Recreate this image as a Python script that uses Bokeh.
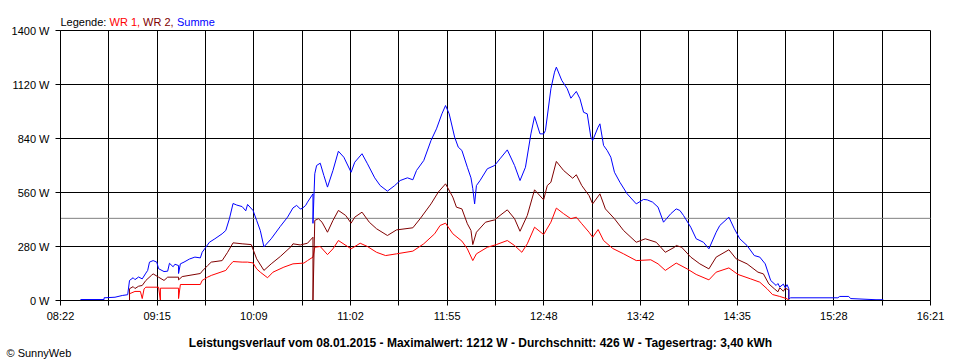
from bokeh.plotting import figure
from bokeh.models import Range1d, FixedTicker, Label
from bokeh.embed import file_html
from bokeh.resources import INLINE

# ---------------- data ----------------
x_tick_labels = ["08:22", "09:15", "10:09", "11:02", "11:55", "12:48",
                 "13:42", "14:35", "15:28", "16:21"]
y_ticks = [0, 280, 560, 840, 1120, 1400]
average_w = 426

summe = [("08:33", 5), ("08:46", 5), ("08:46", 14), ("08:52", 17), ("08:56", 26), ("08:59", 30),
         ("09:00", 104), ("09:02", 118), ("09:03", 108), ("09:05", 122), ("09:07", 112), ("09:09", 142),
         ("09:10", 156), ("09:11", 199),
         ("09:13", 207), ("09:15", 199), ("09:16", 165), ("09:19", 150), ("09:21", 152), ("09:22", 193),
         ("09:24", 175), ("09:25", 188),
         ("09:27", 181), ("09:27", 140), ("09:28", 190), ("09:30", 199), ("09:33", 215), ("09:36", 225),
         ("09:39", 221), ("09:40", 250), ("09:44", 302), ("09:47", 320), ("09:51", 346), ("09:53", 363),
         ("09:55", 424), ("09:57", 503), ("09:59", 495), ("10:02", 487), ("10:04", 465), ("10:05", 498),
         ("10:08", 467), ("10:10", 415), ("10:12", 363), ("10:14", 278), ("10:18", 320), ("10:23", 384),
         ("10:27", 432), ("10:30", 480), ("10:32", 493), ("10:34", 475), ("10:35", 477), ("10:37", 493),
         ("10:38", 510), ("10:41", 553), ("10:41", 400), ("10:42", 657), ("10:43", 700), ("10:45", 712),
         ("10:47", 648), ("10:49", 588), ("10:52", 674), ("10:55", 774), ("10:58", 743), ("11:02", 665),
         ("11:04", 717), ("11:08", 761), ("11:11", 709), ("11:15", 636), ("11:18", 596), ("11:22", 567),
         ("11:26", 596), ("11:29", 622), ("11:33", 636), ("11:36", 626), ("11:38", 674), ("11:42", 726),
         ("11:46", 830), ("11:49", 890), ("11:52", 968), ("11:54", 1011), ("11:56", 968), ("11:59", 847),
         ("12:01", 795), ("12:03", 778), ("12:06", 691), ("12:08", 636), ("12:09", 580), ("12:10", 501),
         ("12:11", 596), ("12:13", 622), ("12:17", 683), ("12:21", 700), ("12:24", 735), ("12:28", 781),
         ("12:32", 700), ("12:35", 622), ("12:38", 691), ("12:41", 864), ("12:43", 954), ("12:46", 864),
         ("12:48", 864), ("12:49", 881), ("12:52", 1098), ("12:54", 1184), ("12:55", 1210), ("12:58", 1141),
         ("13:01", 1098), ("13:03", 1049), ("13:06", 1084), ("13:08", 1046), ("13:10", 976), ("13:12", 968),
         ("13:14", 847), ("13:15", 830), ("13:18", 899), ("13:19", 916), ("13:21", 804), ("13:23", 778),
         ("13:25", 743), ("13:27", 665), ("13:30", 613), ("13:34", 553), ("13:39", 501), ("13:43", 524),
         ("13:45", 522), ("13:48", 510), ("13:51", 484), ("13:54", 406), ("13:58", 450), ("14:01", 475),
         ("14:03", 467), ("14:05", 441), ("14:09", 380), ("14:12", 320), ("14:16", 302), ("14:19", 268),
         ("14:23", 354), ("14:25", 389), ("14:30", 432), ("14:33", 372), ("14:36", 320), ("14:40", 285),
         ("14:44", 233), ("14:47", 225), ("14:50", 190), ("14:53", 104), ("14:56", 78), ("14:57", 88),
         ("14:58", 70), ("15:00", 85), ("15:01", 66), ("15:02", 82),
         ("15:03", 61), ("15:03", 9), ("15:04", 14), ("15:30", 14), ("15:31", 21), ("15:36", 21),
         ("15:37", 10), ("15:51", 4), ("15:55", 4)]

wr1 = [("09:00", 0), ("09:00", 35), ("09:03", 47), ("09:06", 47), ("09:07", 10), ("09:08", 60),
       ("09:09", 69), ("09:16", 69), ("09:17", 0), ("09:17", 64), ("09:27", 64), ("09:27", 10),
       ("09:28", 83), ("09:39", 83), ("09:40", 104), ("09:43", 121), ("09:45", 130), ("09:53", 156),
       ("09:55", 181), ("09:57", 202), ("10:02", 199), ("10:05", 199), ("10:08", 195), ("10:10", 164),
       ("10:12", 147), ("10:16", 118), ("10:19", 147), ("10:25", 173), ("10:30", 190), ("10:36", 194),
       ("10:38", 207), ("10:41", 225), ("10:42", 276), ("10:45", 280), ("10:49", 238), ("10:52", 268),
       ("10:55", 311), ("11:02", 268), ("11:07", 297), ("11:11", 280), ("11:16", 250), ("11:21", 233),
       ("11:27", 242), ("11:36", 256), ("11:42", 294), ("11:48", 346), ("11:51", 389), ("11:54", 401),
       ("11:58", 346), ("12:03", 308), ("12:06", 268), ("12:09", 207), ("12:11", 242), ("12:17", 276),
       ("12:22", 290), ("12:28", 311), ("12:32", 285), ("12:36", 250), ("12:39", 294), ("12:43", 380),
       ("12:48", 342), ("12:52", 406), ("12:55", 479), ("12:59", 450), ("13:03", 424), ("13:06", 432),
       ("13:09", 398), ("13:13", 354), ("13:15", 328), ("13:18", 368), ("13:21", 311), ("13:26", 270),
       ("13:32", 242), ("13:39", 207), ("13:47", 211), ("13:51", 190), ("13:55", 156), ("14:01", 194),
       ("14:07", 164), ("14:12", 135), ("14:19", 107), ("14:23", 147), ("14:30", 169), ("14:35", 135),
       ("14:42", 112), ("14:47", 95), ("14:51", 61), ("14:54", 31), ("14:58", 21), ("15:02", 9),
       ("15:03", 0)]

wr2 = [("09:00", 0), ("09:00", 61), ("09:02", 72), ("09:03", 62), ("09:05", 74), ("09:07", 78),
       ("09:09", 104), ("09:12", 130),
       ("09:13", 138), ("09:16", 121), ("09:19", 104), ("09:21", 121), ("09:27", 121), ("09:27", 107),
       ("09:29", 124), ("09:39", 140), ("09:40", 152), ("09:43", 181), ("09:45", 199), ("09:51", 207),
       ("09:54", 250), ("09:57", 299), ("10:02", 294), ("10:07", 290), ("10:10", 216), ("10:14", 156),
       ("10:18", 190), ("10:23", 228), ("10:29", 280), ("10:30", 294), ("10:34", 288), ("10:38", 297),
       ("10:41", 328), ("10:41", 0), ("10:42", 415), ("10:44", 424), ("10:46", 406), ("10:49", 354),
       ("10:52", 415), ("10:55", 467), ("10:59", 441), ("11:02", 401), ("11:04", 432), ("11:08", 458),
       ("11:12", 406), ("11:16", 372), ("11:22", 337), ("11:27", 366), ("11:36", 377), ("11:40", 424),
       ("11:46", 501), ("11:50", 562), ("11:54", 605), ("11:58", 536), ("12:00", 484), ("12:03", 475),
       ("12:06", 398), ("12:08", 363), ("12:09", 290), ("12:11", 354), ("12:16", 406), ("12:21", 418),
       ("12:24", 441), ("12:28", 470), ("12:32", 424), ("12:35", 359), ("12:39", 441), ("12:43", 574),
       ("12:48", 522), ("12:50", 596), ("12:52", 613), ("12:55", 721), ("12:59", 674), ("13:04", 634),
       ("13:06", 652), ("13:09", 596), ("13:13", 544), ("13:15", 501), ("13:19", 553), ("13:22", 475),
       ("13:27", 424), ("13:32", 363), ("13:39", 302), ("13:44", 320), ("13:50", 302), ("13:55", 250),
       ("14:00", 276), ("14:01", 285), ("14:04", 276), ("14:09", 225), ("14:14", 190), ("14:19", 164),
       ("14:23", 225), ("14:30", 263), ("14:34", 216), ("14:40", 190), ("14:46", 147), ("14:49", 138),
       ("14:52", 86), ("14:55", 61), ("14:57", 45), ("14:58", 66), ("15:00", 48), ("15:01", 64),
       ("15:03", 55), ("15:03", 0)]

title_text = ("Leistungsverlauf vom 08.01.2015 - Maximalwert: 1212 W - "
              "Durchschnitt: 426 W - Tagesertrag: 3,40 kWh")
copyright_text = "\u00a9 SunnyWeb"
legend_parts = [("Legende: ", "black"), ("WR 1, ", "#ff0000"),
                ("WR 2, ", "#800000"), ("Summe", "#0000ff")]


def to_min(s):
    h, m = s.split(":")
    return int(h) * 60 + int(m)


def split(series):
    return [to_min(t) for t, _ in series], [w for _, w in series]


FONT = "Liberation Sans"
W, H = 960, 360
# plot-area geometry (pixels) of the chart inside the canvas
PL, PR, PT, PB = 60, 930, 30, 300

x0, x1 = to_min(x_tick_labels[0]), to_min(x_tick_labels[-1])
y0, y1 = y_ticks[0], y_ticks[-1]
n = len(x_tick_labels) - 1
step = (x1 - x0) / n
major = [x0 + i * step for i in range(n + 1)]
minor = [x0 + (i + 0.5) * step for i in range(n)]

# the frame fills the whole canvas; axes are pinned at the chart's origin
kx = (x1 - x0) / (PR - PL)
ky = (y1 - y0) / (PB - PT)
x_range = Range1d(x0 - PL * kx, x1 + (W - PR) * kx)
y_range = Range1d(y0 - (H - PB) * ky, y1 + PT * ky)

p = figure(width=W, height=H, output_backend="svg", toolbar_location=None,
           x_range=x_range, y_range=y_range, min_border=0)
p.background_fill_color = "white"
p.border_fill_color = "white"
p.outline_line_color = None

p.xaxis.ticker = FixedTicker(ticks=major, minor_ticks=minor)
p.xaxis.major_label_overrides = {v: lab for v, lab in zip(major, x_tick_labels)}
p.yaxis.ticker = FixedTicker(ticks=y_ticks)
p.yaxis.major_label_overrides = {v: f"{v} W" for v in y_ticks}
p.xaxis.fixed_location = y0
p.yaxis.fixed_location = x0
p.xaxis.bounds = (x0, x1)
p.yaxis.bounds = (y0, y1)
for ax in (p.xaxis, p.yaxis):
    ax.axis_line_color = "black"
    ax.major_tick_line_color = "black"
    ax.minor_tick_line_color = "black"
    ax.major_tick_in = 0
    ax.major_tick_out = 5
    ax.minor_tick_in = 0
    ax.minor_tick_out = 5
    ax.major_label_text_font = FONT
    ax.major_label_text_font_size = "11px"
    ax.major_label_text_color = "black"
p.yaxis.minor_tick_line_color = None
p.xaxis.major_label_standoff = 4
p.yaxis.major_label_standoff = 6

p.xgrid.ticker = FixedTicker(ticks=major, minor_ticks=minor)
p.ygrid.ticker = FixedTicker(ticks=y_ticks)
p.xgrid.bounds = (x0, x1)
p.ygrid.bounds = (y0, y1)
p.xgrid.cross_bounds = (y0, y1)
p.ygrid.cross_bounds = (x0, x1)
p.xgrid.grid_line_color = "black"
p.xgrid.minor_grid_line_color = "black"
p.ygrid.grid_line_color = "black"
p.xgrid.grid_line_alpha = 1
p.ygrid.grid_line_alpha = 1

# average line
p.line([x0, x1], [average_w, average_w], line_color="#808080", line_width=1)

# series
for series, color in ((wr1, "#ff0000"), (wr2, "#800000"), (summe, "#0000ff")):
    xs, ys = split(series)
    p.line(xs, ys, line_color=color, line_width=1)

# legend text, title and credit (screen px from the canvas' bottom-left)
for (txt, col), dx in zip(legend_parts, (0, 49, 82.5, 116.5)):
    p.add_layout(Label(x=PL + dx, y=H - 21, x_units="screen", y_units="screen", text=txt,
                       text_font=FONT, text_font_size="11px", text_color=col,
                       text_baseline="alphabetic", text_align="left"))

p.add_layout(Label(x=W / 2, y=H - 342, x_units="screen", y_units="screen", text=title_text,
                   text_font=FONT, text_font_size="12px", text_font_style="bold",
                   text_color="black", text_baseline="alphabetic", text_align="center"))
p.add_layout(Label(x=6, y=H - 352, x_units="screen", y_units="screen", text=copyright_text,
                   text_font=FONT, text_font_size="11px", text_color="black",
                   text_baseline="alphabetic", text_align="left"))

open("out.html", "w").write(file_html(p, INLINE))
